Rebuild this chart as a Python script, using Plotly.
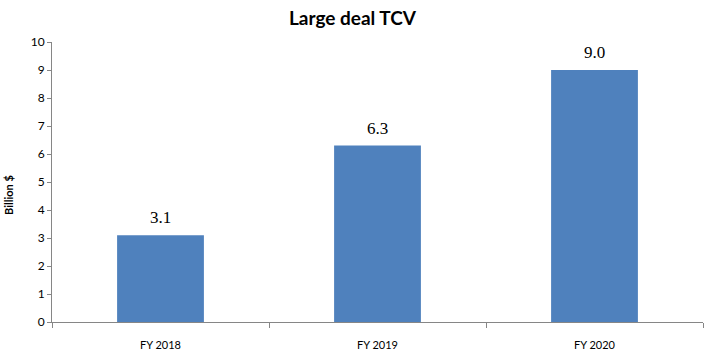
import plotly.graph_objects as go

categories = ["FY 2018", "FY 2019", "FY 2020"]
values = [3.1, 6.3, 9.0]
value_labels = ["3.1", "6.3", "9.0"]
y_ticks = list(range(0, 11))

fig = go.Figure()
fig.add_trace(go.Bar(
    x=categories, y=values,
    marker=dict(color="#4F81BD", line=dict(width=0)),
    hoverinfo="skip",
))

for c, v, t in zip(categories, values, value_labels):
    fig.add_annotation(x=c, y=v, text=t, showarrow=False, yanchor="bottom",
                       yshift=6, font=dict(family="Liberation Serif", size=17, color="#000000"))

# y-axis title as rotated annotation
fig.add_annotation(x=-44 / 651, xref="paper", y=(322 - 195) / 280, yref="paper",
                   text="<b>Billion $</b>", textangle=-90, showarrow=False,
                   xanchor="center", yanchor="middle",
                   font=dict(family="Lato", size=11, color="#000000"))

fig.update_layout(
    width=705, height=351,
    margin=dict(l=52, r=2, t=42, b=29, autoexpand=False),
    paper_bgcolor="white", plot_bgcolor="white",
    bargap=0.6,
    showlegend=False,
    title=dict(text="<b>Large deal TCV</b>", xref="paper", xanchor="center",
               y=1 - 18 / 351, yref="container", yanchor="middle",
               font=dict(family="Lato", size=19, color="#000000")),
)
fig.update_layout(title_x=(352.5 - 52) / (705 - 54))
fig.update_xaxes(
    showline=True, linecolor="#868686", linewidth=1,
    ticks="outside", tickson="boundaries", ticklen=5, tickcolor="#868686",
    showgrid=False, automargin=False,
    tickfont=dict(family="Lato", size=11, color="#000000"),
    ticklabelstandoff=13,
)
fig.update_yaxes(
    range=[0, 10], tickvals=y_ticks,
    showline=True, linecolor="#868686", linewidth=1,
    ticks="outside", ticklen=4, tickcolor="#868686",
    showgrid=False, zeroline=False, automargin=False,
    tickfont=dict(family="Lato", size=12, color="#000000"),
)

fig.write_html("out.html")
